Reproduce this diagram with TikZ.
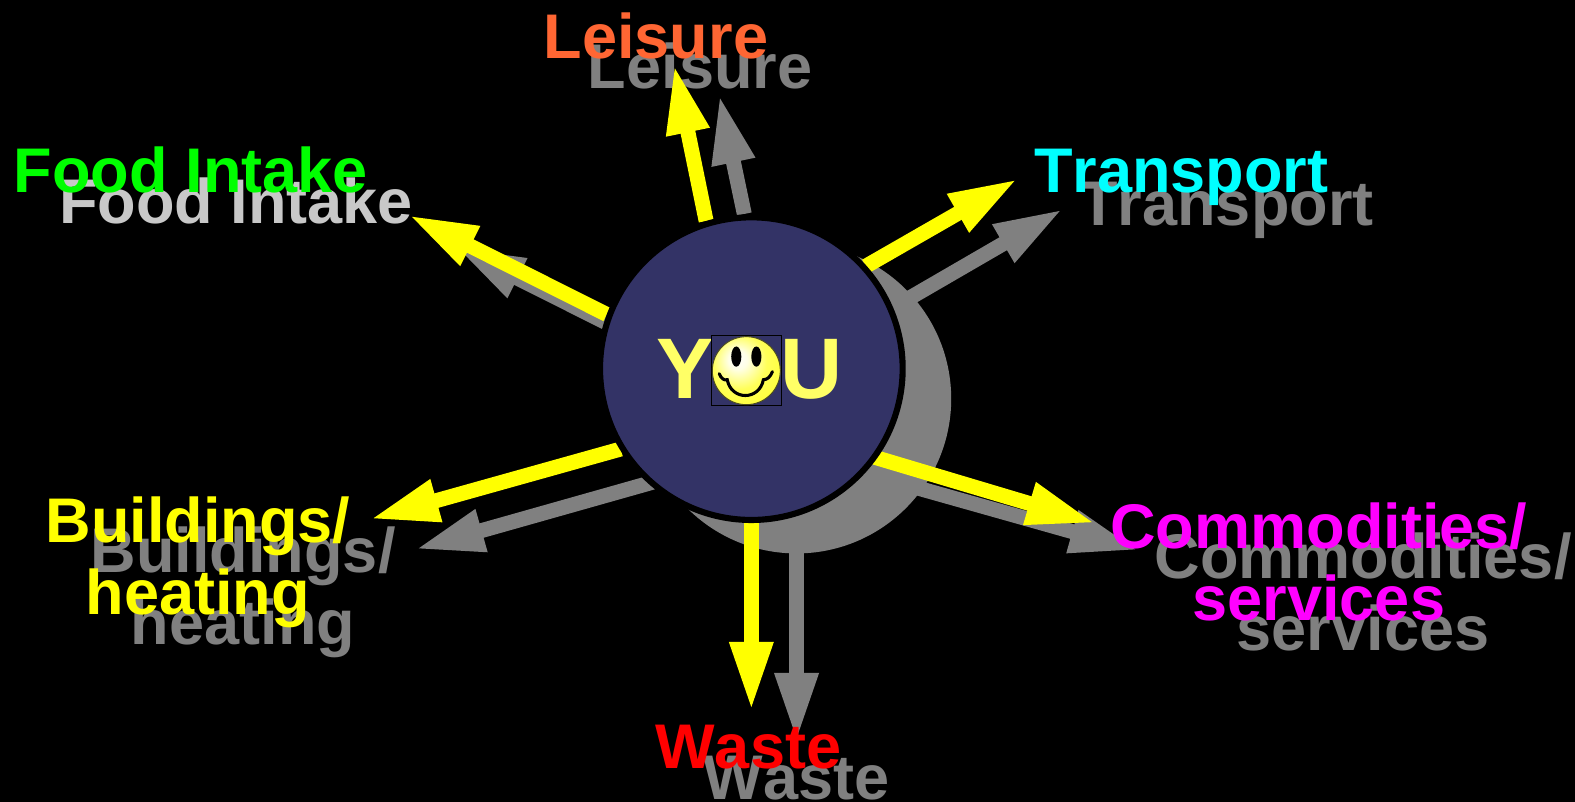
\documentclass[tikz,border=0pt]{standalone}
\usepackage{fontspec}
\setmainfont[Kerning=Off]{Liberation Sans}
\usetikzlibrary{arrows.meta}
\definecolor{navyhub}{HTML}{333366}
\definecolor{youyellow}{HTML}{FFFF66}
\definecolor{ghost}{HTML}{808080}
\definecolor{ghostlight}{HTML}{C8C8C8}
\definecolor{leisurecol}{HTML}{FF6633}
\definecolor{pureyellow}{HTML}{FFFF00}
\definecolor{purecyan}{HTML}{00FFFF}
\definecolor{puremagenta}{HTML}{FF00FF}
\definecolor{puregreen}{HTML}{00FF00}
\definecolor{purered}{HTML}{FF0000}
\pgfdeclareradialshading{smileball}{\pgfpoint{-7bp}{9bp}}{
  color(0bp)=(white); color(7bp)=(white!90!pureyellow); color(20bp)=(white!35!pureyellow); color(36bp)=(youyellow!50!pureyellow); color(70bp)=(youyellow!50!pureyellow)}
\tikzset{
  flow/.style={line width=11.2pt,-{Triangle[length=52pt,width=30pt]}},
  lbl/.style={font=\bfseries\fontsize{47.3}{54}\selectfont,anchor=base,align=center,inner sep=0pt},
}
\begin{document}
\begin{tikzpicture}[x=0.7534pt,y=-0.7534pt]
\useasboundingbox[fill=black] (0,0) rectangle (1568,798.4);
% shadow disc
\node[circle,fill=ghost,minimum size=232pt,inner sep=0pt] (shadow) at (793,397) {};
% tips and bases
\coordinate (gLb) at (741,213); \coordinate (gLt) at (716,94);
\coordinate (gFb) at (603,321); \coordinate (gFt) at (453.5,246);
\coordinate (gTb) at (905,297); \coordinate (gTt) at (1058.5,208);
\coordinate (gBb) at (650,480); \coordinate (gBt) at (413,547);
\coordinate (gCb) at (900,482); \coordinate (gCt) at (1134,548);
\coordinate (gWb) at (793,540); \coordinate (gWt) at (793,739);
\coordinate (yLb) at (703,220); \coordinate (yLt) at (671,64);
\coordinate (yFb) at (604,313); \coordinate (yFt) at (406.5,214);
\coordinate (yTb) at (862,265); \coordinate (yTt) at (1013.5,178);
\coordinate (yBb) at (618,447); \coordinate (yBt) at (368,517);
\coordinate (yCb) at (860,452); \coordinate (yCt) at (1091,521);
\coordinate (yWb) at (748,510); \coordinate (yWt) at (748,708);
% ghost arrows
\foreach \n in {L,F,T,B,C,W} \draw[flow,draw=ghost,fill=ghost] (g\n b) -- (g\n t);
% ghost labels
\node[lbl,text=ghost] (gL) at (697,88) {Leisure};
\node[lbl,text=ghostlight] (gF) at (235,223) {Food Intake};
\node[lbl,text=ghost] (gT) at (1221,224) {Transport};
\node[lbl,text=ghost] (gB) at (242,642) {Buildings/\\heating};
\node[lbl,text=ghost] (gC) at (1357,648) {Commodities/\\services};
\node[lbl,text=ghost] (gW) at (793,796) {Waste};
% yellow arrows
\foreach \n in {L,F,T,B,C,W} \draw[flow,draw=pureyellow,fill=pureyellow] (y\n b) -- (y\n t);
% hub
\node[circle,fill=navyhub,draw=black,line width=4.6pt,minimum size=227pt,inner sep=0pt] (hub) at (748,367) {};
\node[font=\bfseries\fontsize{64.5}{70}\selectfont,text=youyellow,anchor=base,inner sep=0pt] (you) at (746.5,397) {YOU};
% smiley
\node[draw=black,fill=navyhub,line width=0.6pt,minimum size=52.7pt,inner sep=0pt] (smbox) at (743,369) {};
\shade[shading=smileball] (743,369) circle (25.5pt);
\draw[black!70!youyellow,line width=0.7pt] (743,369) circle (25.5pt);
\fill[black] (733,355) ellipse (3.8pt and 7.6pt);
\fill[black] (753,355) ellipse (3.8pt and 7.6pt);
\draw[black,line width=2.3pt,line cap=round] (716,372) .. controls (718,377) and (721,379) .. (724,378) .. controls (728,399) and (756,399) .. (760,378) .. controls (764,378) and (767,375) .. (769,370);
% coloured labels
\node[lbl,text=leisurecol] (cL) at (653,58) {Leisure};
\node[lbl,text=puregreen] (cF) at (190,192) {Food Intake};
\node[lbl,text=purecyan] (cT) at (1176,192) {Transport};
\node[lbl,text=pureyellow] (cB) at (197,612) {Buildings/\\heating};
\node[lbl,text=puremagenta] (cC) at (1313,618) {Commodities/\\services};
\node[lbl,text=purered] (cW) at (745,765) {Waste};
\end{tikzpicture}
\end{document}
